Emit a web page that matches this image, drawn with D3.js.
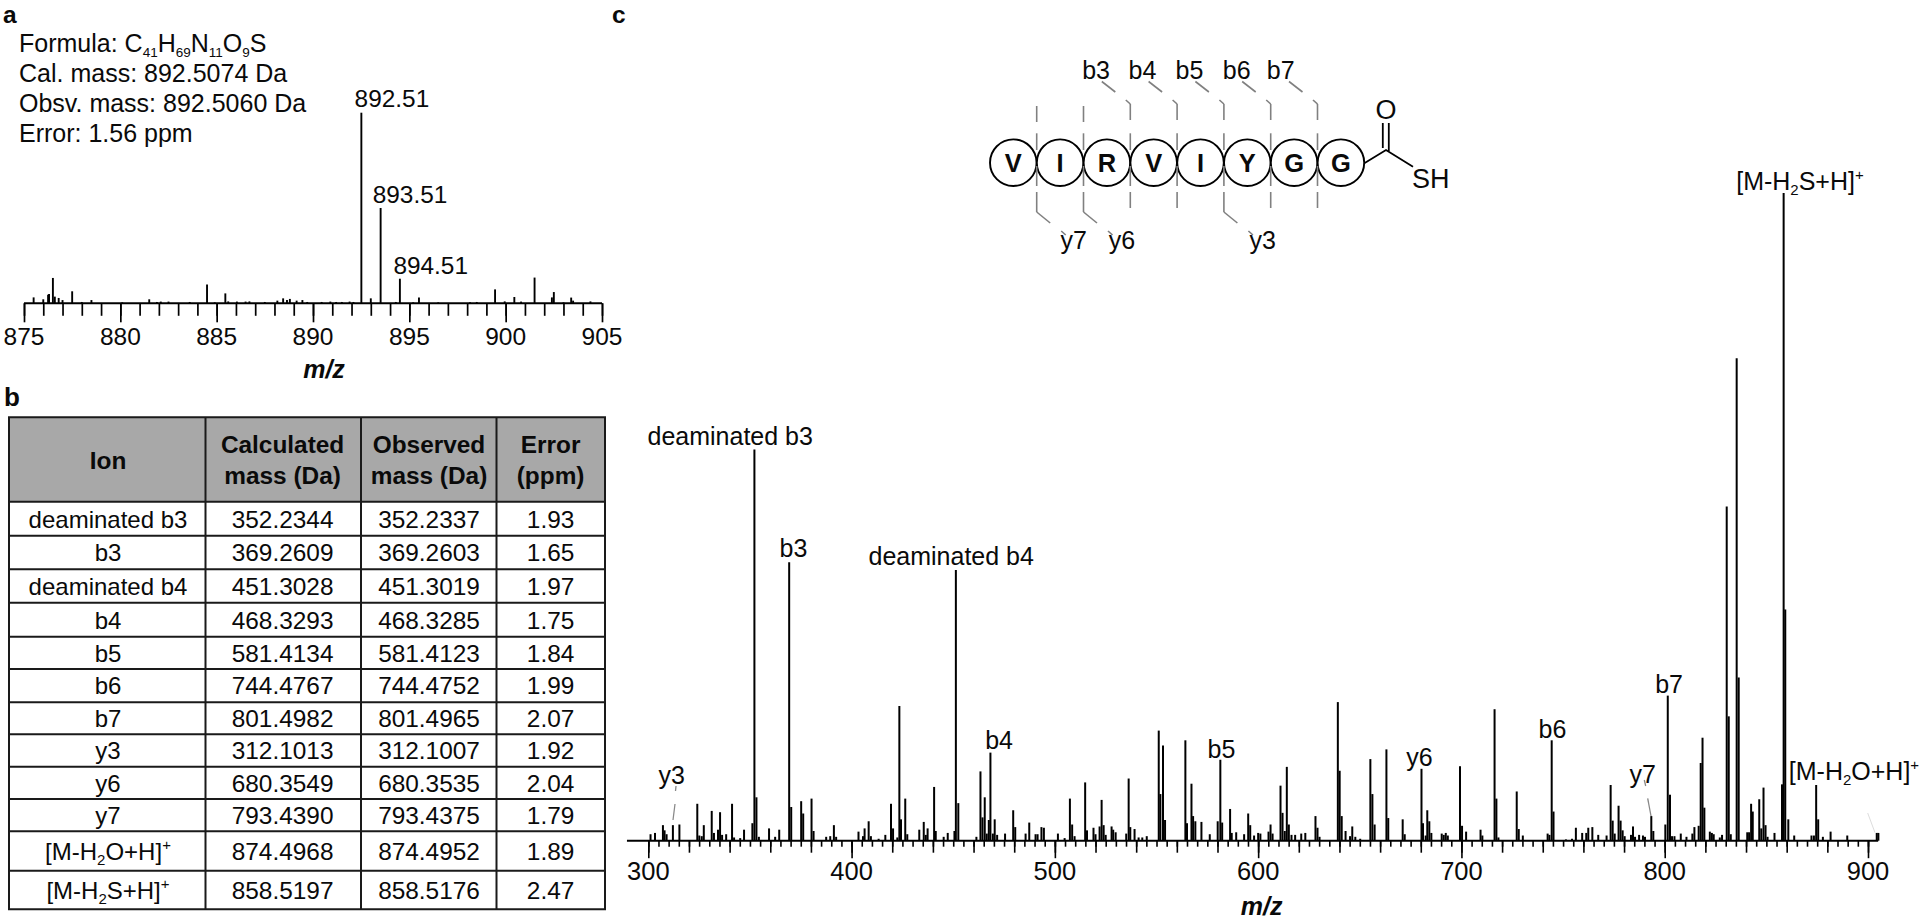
<!DOCTYPE html>
<html><head><meta charset="utf-8">
<script src="https://cdnjs.cloudflare.com/ajax/libs/d3/7.8.5/d3.min.js"></script>
<style>html,body{margin:0;padding:0;background:#fff}svg{display:block}text{font-family:"Liberation Sans",Arial,sans-serif;fill:#0a0a0a}</style>
</head><body><svg id="c" width="1920" height="919"></svg>
<script>
// Panel a: isotope spectrum (m/z, relative intensity %)
const aMz=[875.5,876.0,876.25,876.3,876.5,876.6,876.8,877.0,877.5,878.0,878.5,880.1,881.5,881.9,882.1,882.5,883.6,884.5,884.9,885.45,885.6,886.05,886.5,886.7,887.5,888.15,888.45,888.65,888.8,889.15,889.45,889.7,890.45,890.9,891.2,891.5,891.9,892.1,892.51,893.0,893.51,894.3,894.51,895.2,895.5,896.5,898.15,898.5,899.45,899.95,900.45,900.8,901.5,902.4,902.5,903.0,903.4,903.5,904.4];
const aInt=[3.1,2.1,4.5,4.9,13.3,3.5,2.8,1.7,6.3,.7,1.7,.5,2.1,.7,.9,.9,.7,9.8,.5,5.2,1.0,.9,.9,1.0,.7,1.4,2.6,1.7,2.3,1.4,1.7,.7,.7,.9,.7,.7,.9,.7,100,2.6,50,.7,12.9,.5,3.1,.5,.5,.7,7.3,1.0,3.3,.9,13.5,3.1,5.9,.5,3.0,1.4,1.0];
const aPeakLabels=["892.51","893.51","894.51"];
const aMajorTicks=[875,880,885,890,895,900,905];
const aMinorTicks=d3.range(875,906,1);
const summaryLines=["Formula: C_{41}H_{69}N_{11}O_{9}S","Cal. mass: 892.5074 Da","Obsv. mass: 892.5060 Da","Error: 1.56 ppm"];

// Panel b: table
const tableHeader=[["Ion"],["Calculated","mass (Da)"],["Observed","mass (Da)"],["Error","(ppm)"]];
const ions=["deaminated b3","b3","deaminated b4","b4","b5","b6","b7","y3","y6","y7","[M-H_{2}O+H]^{+}","[M-H_{2}S+H]^{+}"];
const calcMass=["352.2344","369.2609","451.3028","468.3293","581.4134","744.4767","801.4982","312.1013","680.3549","793.4390","874.4968","858.5197"];
const obsMass=["352.2337","369.2603","451.3019","468.3285","581.4123","744.4752","801.4965","312.1007","680.3535","793.4375","874.4952","858.5176"];
const errPpm=["1.93","1.65","1.97","1.75","1.84","1.99","2.07","1.92","2.04","1.79","1.89","2.47"];

// Panel c: MS/MS spectrum (m/z, relative intensity %)
const cMz=[301.1,303.3,307.2,308.0,309.0,312.1,315.3,324.1,325.1,326.3,327.3,331.2,332.3,334.3,335.3,336.3,338.3,341.2,342.2,345.2,347.1,351.2,352.2,353.2,354.4,359.4,362.4,364.4,369.3,370.3,375.2,376.2,380.3,381.3,387.5,389.5,391.3,392.4,403.4,405.6,406.4,408.4,409.5,413.3,416.6,419.4,420.4,422.5,423.5,424.3,426.4,427.4,433.3,435.5,436.5,437.4,440.6,441.4,445.3,447.3,450.6,451.3,452.5,461.4,463.4,464.4,465.5,466.5,467.5,468.3,469.5,470.4,471.6,475.5,479.5,480.5,485.6,487.4,490.5,491.5,493.4,494.6,501.5,504.8,507.4,508.5,509.7,
514.9,515.8,519.0,520.0,522.0,523.0,524.0,525.0,527.9,528.7,529.9,535.1,536.3,537.1,539.2,541.2,543.0,545.2,551.1,551.9,553.2,554.2,564.2,565.0,567.2,568.0,569.1,572.1,576.2,580.1,581.4,582.3,586.2,587.0,589.2,593.1,595.1,596.1,598.0,600.0,601.1,605.1,606.1,607.1,611.0,612.0,613.1,614.1,615.1,616.4,618.2,621.2,623.2,628.2,629.2,630.2,639.2,640.1,641.1,643.0,645.2,646.3,647.8,650.2,655.2,656.2,657.3,663.1,664.0,671.1,672.1,680.35,681.1,682.4,683.2,684.2,685.2,690.3,691.3,692.3,693.3,699.3,700.3,702.3,709.4,710.3,716.3,717.2,718.2,727.2,728.2,
730.2,742.4,743.3,744.4,745.3,751.4,754.4,756.3,759.4,761.4,762.4,764.4,767.3,771.4,773.4,774.4,775.4,777.3,778.3,779.3,780.3,783.4,784.4,785.4,787.4,789.3,790.3,793.4,794.4,800.3,801.5,802.6,803.6,804.8,807.9,810.7,813.6,814.6,816.7,817.7,818.6,819.5,822.2,823.2,824.1,827.1,828.2,830.5,831.5,832.5,835.4,836.4,840.6,841.5,842.5,843.3,846.5,847.5,848.6,849.6,850.6,854.0,857.7,858.5,859.3,860.8,863.7,872.2,873.4,874.5,875.5,877.8,881.6,889.8,904.3,905.1];
const cInt=[1.0,1.2,2.4,1.6,1.0,2.4,2.5,5.7,.8,.7,2.4,4.6,1.2,1.7,4.4,.9,1.0,5.7,.5,.4,1.7,2.7,60.4,6.7,.6,1.9,.6,1.7,43.0,5.2,6.1,4.2,6.5,1.5,.6,.7,2.4,.6,1.4,.7,1.9,3.0,.7,.3,.9,5.7,1.9,.5,20.8,3.3,6.5,1.0,1.7,2.9,.9,1.9,8.3,1.5,.6,1.2,1.5,41.8,5.8,.6,10.7,3.6,6.7,1.1,3.2,13.6,1.1,3.3,.9,1.1,4.7,2.1,1.1,2.8,1.0,1.0,2.1,2.0,1.1,.4,6.5,2.5,.7,
9.0,1.6,2.0,1.0,2.2,6.3,2.4,.9,2.2,1.7,1.3,1.1,9.6,2.1,1.8,.5,.5,.7,17.0,7.2,14.7,3.2,15.5,2.7,8.8,3.8,3.0,2.9,1.0,3.0,12.5,2.8,4.9,1.2,1.3,1.0,4.2,2.4,.8,1.2,1.1,1.4,2.5,1.1,8.5,4.3,1.5,11.4,2.5,.9,.9,1.1,1.2,3.8,2.0,.6,21.4,10.8,3.8,1.5,.7,2.2,.6,.3,12.6,7.2,2.5,14.1,3.5,3.3,1.0,11.1,2.7,.8,4.7,3.0,1.2,1.1,.9,1.2,.8,11.5,2.3,1.4,1.7,.8,20.3,6.5,.5,7.6,1.8,
.8,1.1,.9,15.5,4.5,.2,.3,2.0,1.2,1.2,2.0,2.1,.9,.8,8.6,3.1,1.1,5.4,3.1,1.6,.7,.9,2.2,.6,.9,.8,.6,3.8,1.5,2.5,22.4,7.1,.7,.7,1.1,.6,1.1,2.1,2.3,12.0,15.9,5.1,1.4,1.2,1.0,.5,.9,51.6,19.2,1.0,74.5,25.2,1.3,1.3,5.7,4.5,6.4,1.9,8.2,2.4,.6,1.2,8.7,100,35.7,3.3,.8,.8,.8,8.6,3.3,.6,1.4,.8,1.2,1.2];
const cMajorTicks=[300,400,500,600,700,800,900];
const cMediumTicks=d3.range(300,901,20);
const cMinorTicks=d3.range(300,901,5);
const cLabels=["deaminated b3","b3","deaminated b4","b4","y3","b5","y6","b6","y7","b7","[M-H_{2}O+H]^{+}","[M-H_{2}S+H]^{+}"];
const cLabelX=[647.5,779.5,868.5,985.2,658.5,1207.5,1406.2,1538.5,1629.5,1655.2,1788.8,1736.2];
const cLabelY=[445,557,565,749.3,784,757.7,766,737.7,782.7,693,780,190];

// Peptide
const residues=["V","I","R","V","I","Y","G","G"];
const bCuts=[["b3",2],["b4",3],["b5",4],["b6",5],["b7",6]];
const yCuts=[["y7",0],["y6",1],["y3",4]];

const svg=d3.select("#c");
const FS=25;

function rich(sel,str,subSize,shift,supShift){
  const re=/_\{([^}]*)\}|\^\{([^}]*)\}|([^_^]+)/g; let m,pending=0;
  while((m=re.exec(str))){
    const t=sel.append("tspan");
    if(m[1]!==undefined){t.text(m[1]).attr("font-size",subSize).attr("dy",shift+pending);pending=-shift;}
    else if(m[2]!==undefined){t.text(m[2]).attr("font-size",subSize).attr("dy",-supShift+pending);pending=supShift;}
    else{t.text(m[3]);if(pending)t.attr("dy",pending);pending=0;}
  }
}
function label(x,y,str,opt={}){
  const t=svg.append("text").attr("x",x).attr("y",y).attr("font-size",opt.size||FS)
    .attr("text-anchor",opt.anchor||"start");
  if(opt.weight)t.attr("font-weight",opt.weight);
  if(opt.style)t.attr("font-style",opt.style);
  rich(t,str,opt.sub||15,opt.shift||5,opt.sup||10);
  return t;
}
function drawAxis(g,scale,values,size,sw){
  const ax=d3.axisBottom(scale).tickValues(values).tickSize(size).tickSizeOuter(0).tickFormat("");
  const s=g.call(ax);
  s.select(".domain").remove();
  s.selectAll(".tick line").attr("stroke","#000").attr("stroke-width",sw);
  s.selectAll(".tick text").remove();
}

/* ---------- panel labels ---------- */
label(3,22.6,"a",{size:24.5,weight:"bold"});
label(4,406,"b",{size:26,weight:"bold"});
label(612,22.6,"c",{size:24.5,weight:"bold"});

/* ---------- panel a ---------- */
const ax=d3.scaleLinear().domain([875,905]).range([24,602]);
const ay=d3.scaleLinear().domain([0,100]).range([303.3,112.7]);
summaryLines.forEach((s,i)=>label(19,[52,82,112,142][i],s,{sub:13.5,shift:5}));
svg.append("g").selectAll("line").data(aMz).join("line")
  .attr("x1",d=>ax(d)).attr("x2",d=>ax(d)).attr("y1",ay(0))
  .attr("y2",(d,i)=>ay(aInt[i])).attr("stroke","#000").attr("stroke-width",1.9);
svg.append("line").attr("x1",ax(875)).attr("x2",ax(905)).attr("y1",ay(0)).attr("y2",ay(0)).attr("stroke","#000").attr("stroke-width",2);
const aAxMinor=svg.append("g").attr("transform",`translate(0,${ay(0)})`);
drawAxis(aAxMinor,ax,aMinorTicks,12.5,1.7);
const aAxMajor=svg.append("g").attr("transform",`translate(0,${ay(0)})`);
drawAxis(aAxMajor,ax,aMajorTicks,19,1.7);
aMajorTicks.forEach(v=>label(ax(v),345,String(v),{anchor:"middle",size:24.5}));
label(324,378,"m/z",{anchor:"middle",weight:"bold",style:"italic"});
[[354.6,107.3],[372.7,203.3],[393.4,274]].forEach((p,i)=>label(p[0],p[1],aPeakLabels[i],{size:24.4}));

/* ---------- panel b ---------- */
const colEdges=[9,205.5,361,496.5,605];
const colMid=[108,282.6,429,550.6];
const rowEdges=[417.3,501.7,535.7,569.3,602.7,636.7,669,702.3,734.3,766.7,799,831.3,870.7,909.3];
const tb=svg.append("g");
tb.append("rect").attr("x",colEdges[0]).attr("y",rowEdges[0]).attr("width",colEdges[4]-colEdges[0]).attr("height",rowEdges[1]-rowEdges[0]).attr("fill","#a8a8a8");
rowEdges.forEach(y=>tb.append("line").attr("x1",colEdges[0]-1).attr("x2",colEdges[4]+1).attr("y1",y).attr("y2",y).attr("stroke","#1a1a1a").attr("stroke-width",2));
colEdges.forEach(x=>tb.append("line").attr("x1",x).attr("x2",x).attr("y1",rowEdges[0]).attr("y2",rowEdges[13]).attr("stroke","#1a1a1a").attr("stroke-width",2));
tableHeader.forEach((h,c)=>{
  if(h.length===1)label(colMid[c],469,h[0],{anchor:"middle",weight:"bold",size:24.4});
  else h.forEach((s,i)=>label(colMid[c],[452.7,484][i],s,{anchor:"middle",weight:"bold",size:24.4}));
});
ions.forEach((ion,r)=>{
  const y=(rowEdges[r+1]+rowEdges[r+2])/2+8.8;
  label(colMid[0],y,ion,{anchor:"middle",size:24});
  label(colMid[1],y,calcMass[r],{anchor:"middle",size:24.4});
  label(colMid[2],y,obsMass[r],{anchor:"middle",size:24.4});
  label(colMid[3],y,errPpm[r],{anchor:"middle",size:24.4});
});

/* ---------- panel c ---------- */
const cx=d3.scaleLinear().domain([300,900]).range([648.3,1868]);
const cy=d3.scaleLinear().domain([0,100]).range([840.7,193]);
svg.append("g").selectAll("line").data(cMz).join("line")
  .attr("x1",d=>cx(d)).attr("x2",d=>cx(d)).attr("y1",cy(0))
  .attr("y2",(d,i)=>cy(cInt[i])).attr("stroke","#000").attr("stroke-width",2);
svg.append("line").attr("x1",cx(289.5)).attr("x2",cx(905)).attr("y1",cy(0)).attr("y2",cy(0)).attr("stroke","#000").attr("stroke-width",2);
const cAx1=svg.append("g").attr("transform",`translate(0,${cy(0)})`); drawAxis(cAx1,cx,cMinorTicks,6,1.6);
const cAx2=svg.append("g").attr("transform",`translate(0,${cy(0)})`); drawAxis(cAx2,cx,cMediumTicks,12,1.6);
const cAx3=svg.append("g").attr("transform",`translate(0,${cy(0)})`); drawAxis(cAx3,cx,cMajorTicks,17.5,1.6);
cMajorTicks.forEach(v=>label(cx(v),880,String(v),{anchor:"middle",size:25.5}));
label(1261.7,915,"m/z",{anchor:"middle",weight:"bold",style:"italic"});
cLabels.forEach((l,i)=>label(cLabelX[i],cLabelY[i],l));
[[673,820,675,804],[675.5,791,676,786],[1647.7,798.3,1651,816],[1644.3,780,1645.7,786]].forEach(s=>
  svg.append("line").attr("x1",s[0]).attr("y1",s[1]).attr("x2",s[2]).attr("y2",s[3]).attr("stroke","#888").attr("stroke-width",1.3));
svg.append("line").attr("x1",1867.7).attr("y1",813).attr("x2",1875).attr("y2",832.7).attr("stroke","#ddd").attr("stroke-width",1);

/* ---------- peptide ---------- */
const px=d3.scaleLinear().domain([0,7]).range([1013.3,1340.9]);
const py=162.7, R=23.3;
const pep=svg.append("g");
residues.forEach((r,i)=>{
  pep.append("circle").attr("cx",px(i)).attr("cy",py).attr("r",R).attr("fill","#fff").attr("stroke","#000").attr("stroke-width",1.9);
  label(px(i),py+9,r,{anchor:"middle",weight:"bold",size:25.5});
});
const cutPos=i=>(px(i)+px(i+1))/2;
function seg(x1,y1,x2,y2){pep.append("line").attr("x1",x1).attr("y1",y1).attr("x2",x2).attr("y2",y2).attr("stroke","#808080").attr("stroke-width",1.6);}
d3.range(7).forEach(i=>{
  const x=cutPos(i);
  const isB=bCuts.some(c=>c[1]===i), isY=yCuts.some(c=>c[1]===i);
  seg(x,133.3,x,150); seg(x,166,x,186);
  if(isB){
    seg(x,104,x,120);
    seg(x-4.5,100,x,104);
    seg(x-28.5,81.5,x-15,92);
  } else {
    seg(x,106,x,122);
  }
  if(isY){
    seg(x,192,x,212);
    seg(x,212,x+13.5,223);
    seg(x+24.5,231,x+29,235);
  } else {
    seg(x,192,x,208);
  }
});
bCuts.forEach((c,i)=>label([1082.2,1128.5,1175.5,1222.8,1266.8][i],79.3,c[0]));
yCuts.forEach((c,i)=>label([1060.5,1108.8,1249.5][i],249,c[0]));
const bond=d3.line();
pep.append("path").attr("d",bond([[1364.3,163.3],[1386,150],[1413,166.7]])).attr("fill","none").attr("stroke","#000").attr("stroke-width",1.8);
pep.append("line").attr("x1",1382.8).attr("x2",1382.8).attr("y1",123).attr("y2",148).attr("stroke","#000").attr("stroke-width",1.8);
pep.append("line").attr("x1",1388.8).attr("x2",1388.8).attr("y1",123).attr("y2",151).attr("stroke","#000").attr("stroke-width",1.8);
label(1386,119,"O",{anchor:"middle",size:27});
label(1412,187.5,"SH",{size:27});
</script></body></html>
